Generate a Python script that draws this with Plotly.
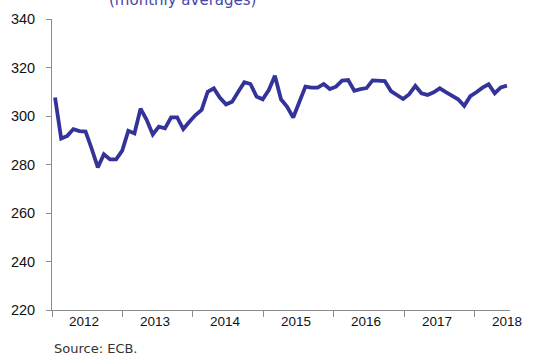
import plotly.graph_objects as go

# Monthly averages, Jan 2012 - Mar 2018
values = [
    307.6, 290.7, 291.8, 294.6, 293.8, 293.6, 286.5, 278.8, 284.2, 282.1, 282.1, 285.7,
    293.9, 292.8, 303.0, 298.4, 292.4, 295.6, 294.9, 299.4, 299.4, 294.6, 297.6, 300.4,
    302.5, 310.0, 311.4, 307.5, 304.8, 305.9, 310.0, 313.9, 313.2, 308.0, 306.9, 310.7,
    316.6, 306.9, 303.8, 299.4, 305.8, 312.1, 311.7, 311.7, 313.2, 311.1, 312.1, 314.6,
    314.8, 310.4, 311.1, 311.5, 314.7, 314.4, 314.4, 310.3, 308.7, 307.0, 309.0, 312.4,
    309.4, 308.7, 309.8, 311.4, 309.8, 308.2, 306.9, 304.2, 308.2, 309.8, 311.7, 313.1,
    309.4, 311.8, 312.5,
]
years = ["2012", "2013", "2014", "2015", "2016", "2017", "2018"]
y_ticks = [220, 240, 260, 280, 300, 320, 340]

n = len(values)
x = list(range(n))
x0, x1 = -0.5, n - 0.5
year_width = n / 6.5
boundaries = [x0 + k * year_width for k in range(len(years))]
centers = [b + year_width / 2 for b in boundaries]

LINE = "#333399"
AXIS = "#8c8c8c"

fig = go.Figure()
fig.add_trace(go.Scatter(
    x=x, y=values, mode="lines",
    line=dict(color=LINE, width=3.8),
    hoverinfo="skip", showlegend=False,
))

fig.update_layout(
    width=544, height=360,
    margin=dict(l=52, r=34, t=19, b=50),
    paper_bgcolor="white", plot_bgcolor="white",
    xaxis=dict(
        range=[x0, x1], tickmode="array", tickvals=boundaries,
        showticklabels=False, ticks="outside", ticklen=6, tickcolor=AXIS,
        showline=True, linecolor=AXIS, linewidth=1, showgrid=False, zeroline=False,
    ),
    yaxis=dict(
        range=[220, 340], tickmode="array", tickvals=y_ticks,
        ticks="outside", ticklen=5, tickcolor=AXIS, ticklabelstandoff=8,
        tickfont=dict(family="Liberation Sans, Arial", size=14.5, color="#111111"),
        showline=True, linecolor=AXIS, linewidth=1, showgrid=False, zeroline=False,
    ),
)

# year labels centred in each year span
for c, yr in zip(centers, years):
    fig.add_annotation(
        x=c, y=0, xref="x", yref="paper", text=yr, showarrow=False,
        xanchor="center", yanchor="top", yshift=-2, xshift=-3,
        font=dict(family="Liberation Sans, Arial", size=13.5, color="#111111"),
    )

fig.add_annotation(
    x=0.284, y=1, xref="paper", yref="paper", text="(monthly averages)",
    showarrow=False, xanchor="center", yanchor="bottom", yshift=8,
    font=dict(family="DejaVu Sans, sans-serif", size=15, color="#4646aa"),
)

fig.add_annotation(
    x=0, y=0, xref="paper", yref="paper", text="Source: ECB.",
    showarrow=False, xanchor="left", yanchor="top", yshift=-29,
    font=dict(family="DejaVu Sans, sans-serif", size=13, color="#333333"),
)

fig.write_html("out.html")
